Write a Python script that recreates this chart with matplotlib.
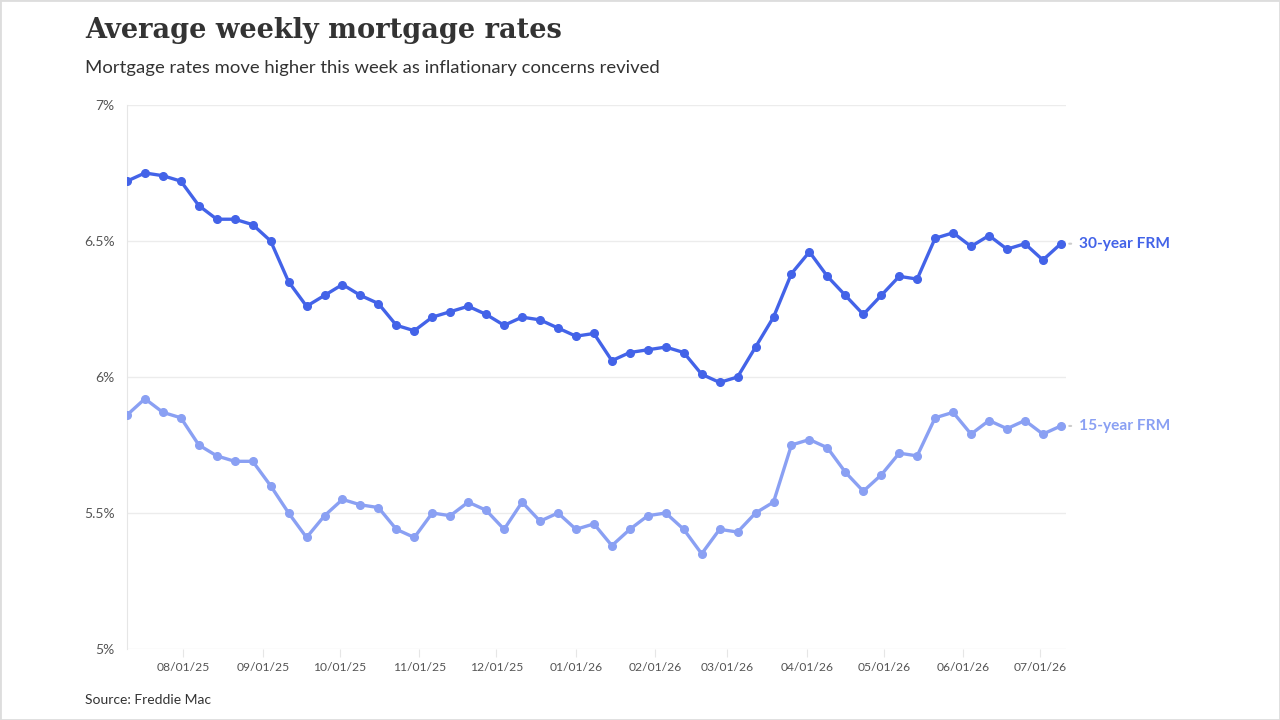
import pandas as pd
import matplotlib.pyplot as plt
import matplotlib.dates as mdates
from matplotlib.patches import Rectangle

# Weekly Freddie Mac averages
dates = pd.date_range('2025-07-10', '2026-07-09', freq='7D')
rate_30yr = [6.72, 6.75, 6.74, 6.72, 6.63, 6.58, 6.58, 6.56, 6.50, 6.35,
             6.26, 6.30, 6.34, 6.30, 6.27, 6.19, 6.17, 6.22, 6.24, 6.26,
             6.23, 6.19, 6.22, 6.21, 6.18, 6.15, 6.16, 6.06, 6.09, 6.10,
             6.11, 6.09, 6.01, 5.98, 6.00, 6.11, 6.22, 6.38, 6.46, 6.37,
             6.30, 6.23, 6.30, 6.37, 6.36, 6.51, 6.53, 6.48, 6.52, 6.47,
             6.49, 6.43, 6.49]
rate_15yr = [5.86, 5.92, 5.87, 5.85, 5.75, 5.71, 5.69, 5.69, 5.60, 5.50,
             5.41, 5.49, 5.55, 5.53, 5.52, 5.44, 5.41, 5.50, 5.49, 5.54,
             5.51, 5.44, 5.54, 5.47, 5.50, 5.44, 5.46, 5.38, 5.44, 5.49,
             5.50, 5.44, 5.35, 5.44, 5.43, 5.50, 5.54, 5.75, 5.77, 5.74,
             5.65, 5.58, 5.64, 5.72, 5.71, 5.85, 5.87, 5.79, 5.84, 5.81,
             5.84, 5.79, 5.82]
series_names = ['30-year FRM', '15-year FRM']
y_ticks = [5, 5.5, 6, 6.5, 7]
y_labels = ['5%', '5.5%', '6%', '6.5%', '7%']

dark_blue = '#4363e8'
light_blue = '#8aa0f3'

plt.rcParams['font.family'] = ['Lato', 'DejaVu Sans']

fig = plt.figure(figsize=(12.8, 7.2), dpi=100)
ax = fig.add_axes([0.0992, 0.0986, 0.7336, 0.7556])

ax.plot(dates, rate_15yr, color=light_blue, lw=2.4, marker='o', ms=5.5, zorder=3)
ax.plot(dates, rate_30yr, color=dark_blue, lw=2.4, marker='o', ms=5.5, zorder=4)

ax.set_ylim(5, 7)
ax.set_xlim(dates[0], dates[-1] + pd.Timedelta(days=2))
ax.set_yticks(y_ticks)
ax.set_yticklabels(y_labels)
ax.grid(axis='y', color='#ececec', lw=1)
ax.set_axisbelow(True)

ax.xaxis.set_major_locator(mdates.MonthLocator(bymonthday=1))
ax.xaxis.set_major_formatter(mdates.DateFormatter('%m/%d/%y'))

for s in ['top', 'right', 'bottom']:
    ax.spines[s].set_visible(False)
ax.spines['left'].set_color('#e6e6e6')
ax.tick_params(axis='y', length=0, pad=9, labelsize=10, labelcolor='#555555')
ax.tick_params(axis='x', length=6, color='#e6e6e6', pad=3, labelsize=8.7,
               labelcolor='#555555')

# end labels
for vals, name, col in [(rate_30yr, series_names[0], dark_blue),
                        (rate_15yr, series_names[1], light_blue)]:
    ax.annotate('', xy=(1.0085, vals[-1]), xytext=(1.0005, vals[-1]),
                xycoords=('axes fraction', 'data'),
                arrowprops=dict(arrowstyle='-', color='#cccccc', lw=1.5))
    ax.text(1.0135, vals[-1], name, transform=ax.get_yaxis_transform(),
            color=col, fontsize=11.2, fontweight='bold', va='center', ha='left')

fig.text(0.0664, 0.957, 'Average weekly mortgage rates', family='DejaVu Serif',
         fontsize=19.6, fontweight='bold', color='#333333', va='center')
fig.text(0.0664, 0.905, 'Mortgage rates move higher this week as inflationary concerns revived',
         fontsize=13.3, color='#333333', va='center')
fig.text(0.0664, 0.028, 'Source: Freddie Mac', fontsize=10, color='#333333', va='center')

fig.patches.append(Rectangle((0, 0), 1, 1, transform=fig.transFigure, fill=False,
                             edgecolor='#dddddd', lw=2))

fig.savefig('out.png', dpi=100)
